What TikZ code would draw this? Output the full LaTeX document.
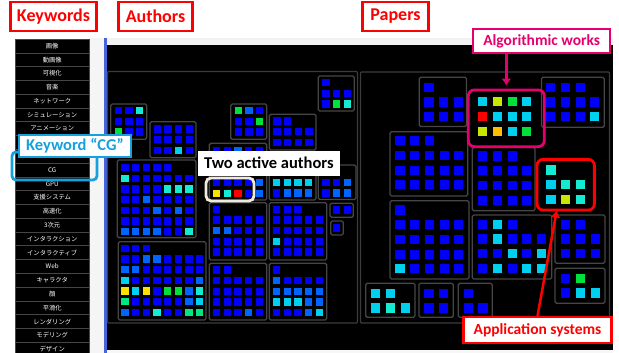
\documentclass[tikz,border=0pt]{standalone}
\usepackage{fontspec}
\setmainfont{Carlito}
\newfontfamily\jpfont{Noto Sans CJK JP}
\usetikzlibrary{arrows.meta,positioning,calc}
\definecolor{hdrred}{RGB}{255,0,0}
\definecolor{kwblue}{RGB}{22,160,222}
\definecolor{algpink}{RGB}{230,0,110}
\definecolor{hlbeige}{RGB}{238,234,222}
\definecolor{grpgray}{RGB}{70,70,70}
\definecolor{pnlblue}{RGB}{70,100,220}
\definecolor{sqb}{RGB}{0,0,250}
\definecolor{sqmb}{RGB}{0,100,255}
\definecolor{sqcy}{RGB}{0,208,240}
\definecolor{sqaq}{RGB}{20,235,210}
\definecolor{sqgr}{RGB}{0,225,60}
\definecolor{sqtg}{RGB}{0,230,130}
\definecolor{sqyl}{RGB}{250,225,0}
\definecolor{sqyg}{RGB}{200,230,0}
\definecolor{sqor}{RGB}{255,190,0}
\definecolor{sqrd}{RGB}{255,0,0}

% rows of coloured squares: col-1 centre x, row-1 centre y, pitch, side, {row},{row},...
\newcommand\sqgrid[5]{%
  \foreach \rowlist [count=\r from 0] in {#5}{
    \foreach \c [count=\k from 0] in \rowlist{
      \fill[fill=sq\c] ({#1+\k*#3-#4/2},{#2+\r*#3-#4/2}) rectangle ++(#4,#4);
    }
  }}
\newcommand\asq[3]{\sqgrid{#1}{#2}{10.65}{7.2}{#3}}
\newcommand\psq[3]{\sqgrid{#1}{#2}{14.7}{9.2}{#3}}

\begin{document}
\begin{tikzpicture}[x=1pt, y=-1pt, >=Latex,
  grp/.style={draw=grpgray, line width=1.3pt, rounded corners=1.5pt},
  region/.style={draw=grpgray!85!black, line width=1.2pt, rounded corners=1pt},
  kwcell/.style={draw=gray!55!black, fill=black, line width=0.7pt},
  kwtext/.style={text=white, font=\jpfont\fontsize{6.3}{7}\selectfont, inner sep=0pt},
  hdr/.style={draw=hdrred, line width=2.2pt, fill=white, text=hdrred,
              font=\bfseries\fontsize{18}{20}\selectfont, inner sep=0pt},
  callout/.style={fill=white, font=\bfseries\fontsize{15.5}{17}\selectfont, inner sep=0pt},
  hlbox/.style={line width=2.8pt, rounded corners=6pt, inner sep=0pt}]
\useasboundingbox (0,0) rectangle (619,353);
\fill[white] (0,0) rectangle (619,353);

% keyword list
\fill[gray!8] (89.5,38) rectangle (104,353);
\foreach \kw [count=\i from 0] in {画像,動画像,可視化,音楽,ネットワーク,シミュレーション,アニメーション,{},{},CG,GPU,支援システム,高速化,3次元,インタラクション,インタラクティブ,Web,キャラクタ,顔,平滑化,レンダリング,モデリング,デザイン}{
  \draw[kwcell] (15,{39.1+\i*13.78}) rectangle ++(74.5,13.78);
  \node[kwtext] (kw\i) at (52.2,{46+\i*13.78}) {\kw};
}

% main panel
\fill[gray!10] (106.5,38) rectangle (613,45);
\fill[black] (106.5,45) rectangle (613,350);
\fill[gray!6] (106.5,350) rectangle (613,353);
\fill[pnlblue] (104,38) rectangle (106.5,353);
\draw[region] (107.5,71.5) rectangle (357.5,323);
\draw[region] (360.5,72) rectangle (609.5,323);

% authors
\draw[grp] (110.7,104) rectangle (146.7,139.3);
\asq{118.3}{110.7}{{b,b,aq},{b,b,b},{gr,b,b}}
\draw[grp] (150,121.7) rectangle (196,157.7);
\asq{157.3}{129}{{b,b,b,b},{b,b,b,b},{b,b,cy,b}}
\draw[grp] (230.7,104) rectangle (266.7,139.3);
\asq{238.3}{110.7}{{gr,mb,b},{b,b,gr},{b,b,b}}
\draw[grp] (318.3,76) rectangle (354.3,111);
\asq{326}{82.7}{{b},{b,b,b},{b,gr,aq}}
\draw[grp] (269.3,114.3) rectangle (316,150);
\asq{277}{121}{{b,b},{b,b,b,b},{b,b,b,b}}
\draw[grp] (209.3,143.3) rectangle (266.7,200);
\asq{216.7}{150.5}{{b,b,mb,b,b},{b,b,b,b,b},{b,b,b,b,b},{b,b,b,b,mb},{yl,aq,rd,b,mb}}
\draw[grp] (269.3,168) rectangle (316,200);
\asq{276.7}{182.3}{{cy,cy,cy,cy},{b,mb,mb,mb}}
\draw[grp] (318.3,165) rectangle (356,199.5);
\asq{326}{182.3}{{b,b,mb},{b,mb,mb}}
\draw[grp] (117.3,160) rectangle (196,237.7);
\asq{125}{167.7}{{b,b,b,b,b},{aq,b,b,b,b,b,b},{b,b,b,b,aq,aq,aq},{b,b,mb,b,b,b,b},{b,b,b,mb,b,mb,b},{b,b,b,b,b,b,b},{mb,mb,mb,mb,b,b,aq}}
\draw[grp] (118.3,241.7) rectangle (206,320);
\asq{125}{248.3}{{b,b,b},{b,b,mb,mb,b,b,b,b},{mb,mb,b,b,b,b,b,b},{cy,b,b,b,b,b,b,mb},{yl,cy,yl,b,gr,gr,mb,aq},{tg,b,b,b,b,b,mb,cy},{mb,b,b,aq,b,b,tg,tg}}
\draw[grp] (209.3,202.7) rectangle (266.7,260);
\asq{216.7}{209.3}{{b},{b,b,b,b,b},{mb,mb,b,b,b},{b,b,b,b,b},{b,b,b,b,b}}
\draw[grp] (269.3,202.7) rectangle (326.7,260);
\asq{276.7}{209.3}{{b,b,b},{b,b,b,b,b},{b,b,b,b,b},{cy,b,b,b,b},{b,b,b,b,b}}
\draw[grp] (209.3,263.3) rectangle (266.7,320);
\asq{216.7}{270}{{b,b},{b,b,b,b,b},{b,b,b,b,b},{b,b,b,b,b},{b,b,b,mb,b}}
\draw[grp] (269.3,263.3) rectangle (326.7,320);
\asq{276.7}{270}{{b},{mb,b,b,b,b},{mb,mb,mb,mb,mb},{cy,cy,cy,mb,mb},{b,b,b,mb,cy}}
\draw[grp] (330,203.3) rectangle (353.3,217.3);
\asq{336.7}{210}{{b,b}}
\draw[grp] (330.7,221) rectangle (343.3,235);
\asq{336.7}{228}{{b}}

% papers
\draw[grp] (419.3,77.3) rectangle (466.5,126.5);
\psq{429}{87.3}{{b},{b,b,b},{b,b,b}}
\psq{482.7}{101.7}{{cy,yg,gr,cy},{rd,cy,cy,cy},{yg,or,cy,gr}}
\draw[grp] (541.5,77.3) rectangle (604.3,127.3);
\psq{550.7}{87.3}{{b,b,b},{b,b,b,b},{b,b,b,cy}}
\draw[grp] (390,131.7) rectangle (467.7,196);
\psq{400}{140.7}{{b,b,b},{b,b,b,b,b},{b,b,b,b,b},{b,b,b,b,b}}
\draw[grp] (472.3,147.5) rectangle (535,210.7);
\psq{482.7}{156}{{b,b,b},{b,b,b,b},{b,b,b,b},{b,b,b,b}}
\psq{551}{170}{{aq},{cy,aq,aq},{cy,yg,aq}}
\draw[grp] (390,200.7) rectangle (469,279);
\psq{400}{210}{{b},{b,b,b,b,b},{b,b,b,b,b},{b,b,b,b,b},{cy,b,b,b,b}}
\draw[grp] (472.3,215) rectangle (551.7,279);
\psq{482.7}{224.3}{{b,cy,b},{b,cy,b,b,b},{b,b,cy,b,cy},{b,cy,b,cy,cy}}
\draw[grp] (555,215) rectangle (605,263.3);
\psq{565.7}{224.3}{{b,b},{b,b,b},{b,b,b}}
\draw[grp] (555,268.3) rectangle (605,303.3);
\psq{565.7}{278.3}{{b,gr},{b,cy,cy}}
\draw[grp] (365.7,283.3) rectangle (415,317.3);
\psq{375.7}{293.3}{{cy,cy},{cy,aq,cy}}
\draw[grp] (419,283.3) rectangle (453.3,317.3);
\psq{429}{293.3}{{b,b},{b,b}}
\draw[grp] (458.3,283.3) rectangle (492.3,317.3);
\psq{468.3}{293.3}{{b},{b,b}}

% headers
\node[hdr, minimum width=86pt, minimum height=29pt] (kwhdr) at (53.5,16.5) {Keywords};
\node[hdr, minimum width=74pt, minimum height=29pt] (auhdr) at (155.5,16.5) {Authors};
\node[hdr, minimum width=66pt, minimum height=29pt] (pphdr) at (395.5,16.5) {Papers};

% highlights and callouts
\node[hlbox, draw=kwblue, rounded corners=4pt, minimum width=85pt, minimum height=28pt] (cgbox) at (54.5,166) {};
\node[callout, draw=kwblue, line width=2.8pt, text=kwblue, font=\bfseries\fontsize{16.5}{18}\selectfont, minimum width=112pt, minimum height=22pt] (cglab) at (75,146) {Keyword “CG”};
\node[hlbox, draw=hlbeige, rounded corners=5pt, minimum width=48pt, minimum height=23pt] (twobox) at (230,189.5) {};
\node[callout, text=black, font=\bfseries\fontsize{16.5}{18}\selectfont, minimum width=142pt, minimum height=25pt] (twolab) at (268.9,163.2) {Two active authors};
\node[hlbox, draw=algpink, minimum width=76pt, minimum height=56.7pt] (algbox) at (506.3,118.3) {};
\node[callout, draw=algpink, line width=2.2pt, text=algpink, minimum width=137pt, minimum height=24pt] (alglab) at (541.7,41) {Algorithmic works};
\node[hlbox, draw=hdrred, minimum width=57.3pt, minimum height=50.7pt] (applbox) at (565.7,184.7) {};
\node[callout, draw=hdrred, line width=2.2pt, text=hdrred, minimum width=148pt, minimum height=26pt] (appllab) at (537.5,330) {Application systems};
\draw[algpink, line width=2.8pt, -{Latex[length=7pt,width=10pt]}] (algbox.north |- alglab.south) -- ([yshift=3pt]algbox.north);
\draw[hdrred, line width=2.5pt, -{Latex[length=7pt,width=10pt]}] (appllab.north) -- ([xshift=-9pt,yshift=1pt]applbox.south);
\end{tikzpicture}
\end{document}
